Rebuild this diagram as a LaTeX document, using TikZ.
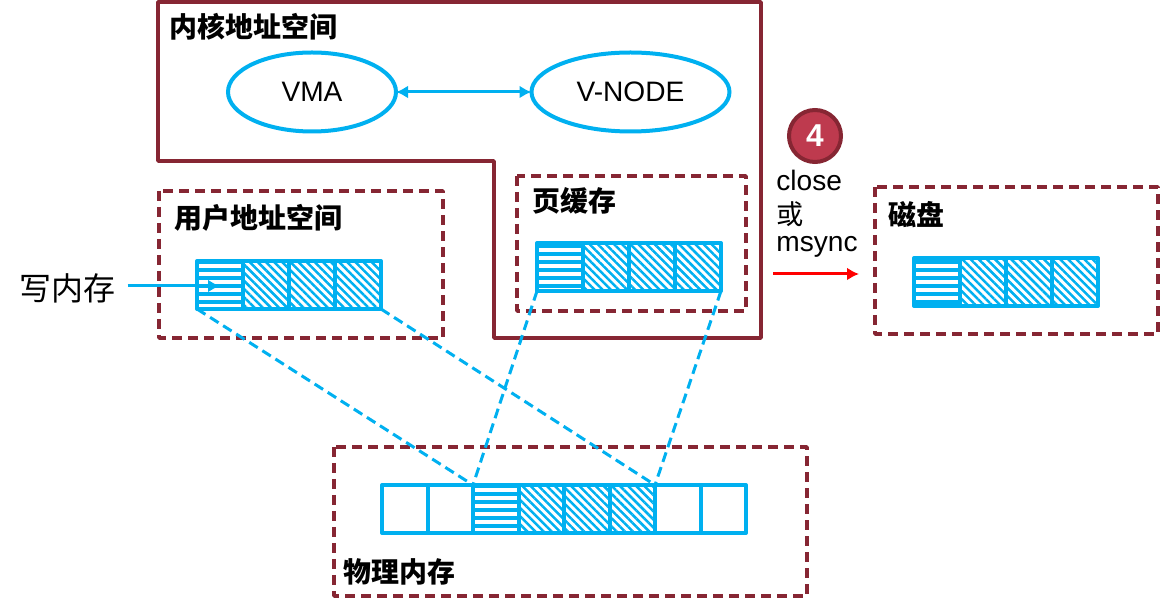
\documentclass[tikz,border=0pt]{standalone}
\usepackage{fontspec}
\setmainfont{Liberation Sans}
\newfontfamily\cjk{Noto Sans CJK SC}
\usepackage{xcolor}
\usetikzlibrary{shapes}
\usetikzlibrary{arrows.meta,arrows}
\usetikzlibrary{patterns.meta}
\definecolor{boxred}{HTML}{862633}
\definecolor{badgered}{HTML}{BE3A4E}
\definecolor{pageblue}{HTML}{00B0F0}
\tikzset{>={Latex[length=2.4mm,width=2.6mm]}}
\tikzset{
  solidbox/.style={draw=boxred,line width=0.75mm,line join=round},
  dashbox/.style={draw=boxred,line width=0.75mm,line join=round,dash pattern=on 2mm off 1.2mm},
  title/.style={anchor=west,inner sep=0pt,font=\cjk\bfseries\fontsize{15.9}{18}\selectfont},
  plain/.style={anchor=west,inner sep=0pt,font=\fontsize{16}{18}\selectfont},
  oval/.style={ellipse,draw=pageblue,line width=0.8mm,minimum width=3.36cm,minimum height=1.58cm,inner sep=0pt,outer sep=0pt,font=\fontsize{16}{18}\selectfont},
  pagecell/.style={draw=pageblue,line width=0.8mm,minimum width=0.92cm,minimum height=0.96cm,inner sep=0pt,outer sep=0pt,line join=round},
  cellh/.style={pagecell,pattern={Lines[angle=0,distance=1.6mm,line width=0.8mm]},pattern color=pageblue},
  celld/.style={pagecell,pattern={Lines[angle=-45,distance=1.15mm,line width=0.5mm]},pattern color=pageblue},
  celle/.style={pagecell},
  link/.style={draw=pageblue,line width=0.6mm,dash pattern=on 2mm off 1.1mm},
}

\begin{document}
\begin{tikzpicture}[x=0.2mm,y=-0.2mm]
\useasboundingbox (0,0) rectangle (1160,606);

% Kernel space
\draw[solidbox] (158,2)--(761,2)--(761,338)--(494,338)--(494,161)--(158,161)--cycle;
\node[title] (kerneltitle) at (169,27) {内核地址空间};
\node[oval] (vma) at (312,92) {VMA};
\node[oval,minimum width=3.96cm] (vnode) at (630.5,92) {V-NODE};
\draw[<->,pageblue,line width=0.6mm] (vma)--(vnode);

% Dashed boxes
\draw[dashbox] (159,191) rectangle (443,338);
\node[title] (usertitle) at (174,218) {用户地址空间};
\draw[dashbox] (517,176) rectangle (746,311);
\node[title] (cachetitle) at (532,201) {页缓存};
\draw[dashbox] (875,187) rectangle (1158,334);
\node[title] (disktitle) at (888,215) {磁盘};
\draw[dashbox] (334,447) rectangle (807,596);
\node[title] (memtitle) at (343,572) {物理内存};

% Page strips
\foreach \strip/\x/\y in {u/197/285,c/537/267,d/914/282}{
  \node[cellh] (\strip1) at (\x+23,\y) {};
  \foreach \i in {2,3,4}
    \node[celld] (\strip\i) at (\x+\i*46-23,\y) {};
}

% Physical memory
\foreach \i/\look in {1/celle,2/celle,3/cellh,4/celld,5/celld,6/celld,7/celle,8/celle}
  \node[\look,minimum width=0.91cm] (p\i) at (382+\i*45.5-22.75,509) {};

% Mappings
\draw[link] (u1.south west)--(p3.north west);
\draw[link] (u4.south east)--(p6.north east);
\draw[link] (c1.south west)--(p3.north west);
\draw[link] (c4.south east)--(p6.north east);

% Write
\node[anchor=west,inner sep=0pt,font=\cjk\fontsize{18.2}{20}\selectfont] (write) at (19,288) {写内存};
\coordinate (writeend) at (220,286);
\draw[->,pageblue,line width=0.6mm] (write.east)++(12,-2)--(writeend);

% Sync
\node[circle,draw=boxred,fill=badgered,line width=0.8mm,minimum size=1.04cm,inner sep=0pt,text=white,font=\bfseries\fontsize{18}{20}\selectfont] (badge) at (815,136) {4};
\node[plain] (close) at (776,180) {close};
\node[plain,font=\cjk\fontsize{15.5}{18}\selectfont] (or) at (776,214) {或};
\node[plain] (msync) at (776,247) {msync};
\coordinate (syncstart) at (773,274);
\coordinate (syncend) at (859,274);
\draw[->,red,line width=0.6mm] (syncstart)--(syncend);

\end{tikzpicture}
\end{document}
